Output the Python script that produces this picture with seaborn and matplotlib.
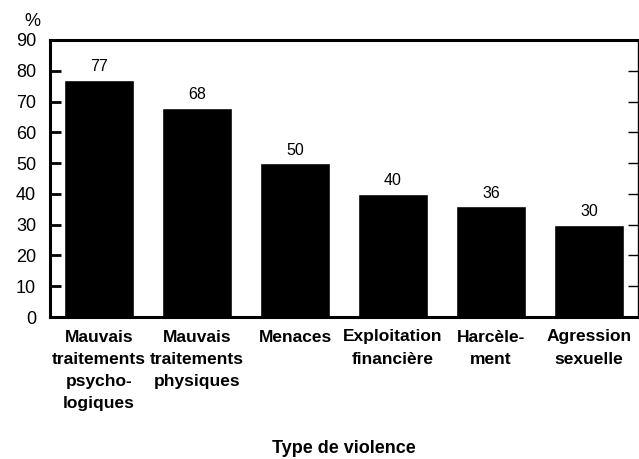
import matplotlib
matplotlib.use("Agg")
import matplotlib.pyplot as plt
import seaborn as sns

categories = [
    "Mauvais\ntraitements\npsycho-\nlogiques",
    "Mauvais\ntraitements\nphysiques",
    "Menaces",
    "Exploitation\nfinancière",
    "Harcèle-\nment",
    "Agression\nsexuelle",
]
values = [77, 68, 50, 40, 36, 30]
yticks = [0, 10, 20, 30, 40, 50, 60, 70, 80, 90]

sns.set_style("white")
plt.rcParams["font.family"] = ["Liberation Sans", "DejaVu Sans"]
plt.rcParams["text.color"] = "black"
plt.rcParams["xtick.color"] = "black"
plt.rcParams["ytick.color"] = "black"
plt.rcParams["axes.labelcolor"] = "black"

fig = plt.figure(figsize=(6.39, 4.59), dpi=100)
ax = fig.add_axes([50 / 639, 1 - 317 / 459, 588 / 639, 277 / 459])

sns.barplot(x=categories, y=values, color="black", width=0.72,
            saturation=1, ax=ax)

for i, v in enumerate(values):
    ax.text(i, v + 1.8, str(v), ha="center", va="bottom", fontsize=11.5)

ax.set_xlim(-0.5, 5.5)
ax.set_ylim(0, 90)
ax.set_yticks(yticks)
ax.tick_params(axis="y", direction="in", length=8, width=2, labelsize=13,
               left=True, right=False, pad=10)
ax.tick_params(axis="x", length=0, labelsize=12.5, pad=9)
for lbl in ax.get_xticklabels():
    lbl.set_fontweight("bold")
    lbl.set_linespacing(1.6)

# right-side thin inward ticks
ax2 = ax.twinx()
ax2.set_ylim(0, 90)
ax2.set_yticks(yticks)
ax2.tick_params(axis="y", direction="in", length=7, width=1, labelright=False)
for s in ax2.spines.values():
    s.set_visible(False)

for side in ["left", "top", "bottom"]:
    ax.spines[side].set_linewidth(2.2)
    ax.spines[side].set_color("black")
ax.spines["right"].set_linewidth(1)
ax.spines["right"].set_color("black")

ax.set_xlabel("Type de violence", fontsize=13, fontweight="bold", labelpad=21)
ax.set_ylabel("")
fig.text(32 / 639, 1 - 21 / 459, "%", ha="center", va="center", fontsize=13)

fig.savefig("out.png", dpi=100)
